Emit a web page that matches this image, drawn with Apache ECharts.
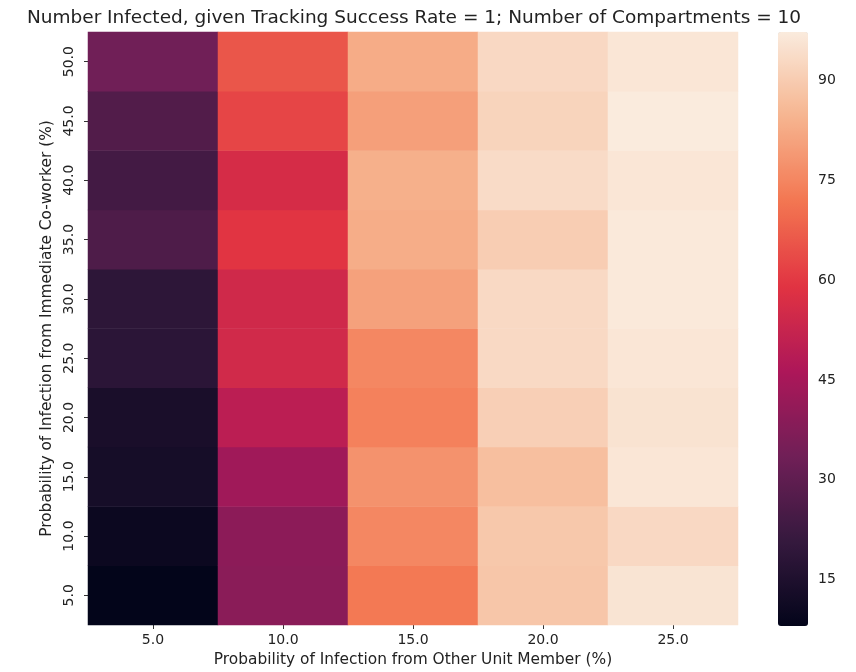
<!DOCTYPE html>
<html>
<head>
<meta charset="utf-8">
<script src="https://cdn.jsdelivr.net/npm/echarts@6/dist/echarts.min.js"></script>
<style>html,body{margin:0;padding:0;background:#fff;}#c{width:856px;height:672px;}</style>
</head>
<body>
<div id="c"></div>
<script>
// x categories: Probability of Infection from Other Unit Member (%)
var xCats = ['5.0', '10.0', '15.0', '20.0', '25.0'];
// y categories: Probability of Infection from Immediate Co-worker (%), bottom to top
var yCats = ['5.0', '10.0', '15.0', '20.0', '25.0', '30.0', '35.0', '40.0', '45.0', '50.0'];
// values per x column, listed from y=5.0 up to y=50.0
var col5  = [8.0, 10.2, 12.8, 13.8, 18.3, 18.7, 26.2, 23.8, 27.0, 33.6];
var col10 = [39.0, 39.4, 43.6, 49.6, 54.8, 54.5, 59.2, 56.0, 62.4, 65.6];
var col15 = [72.4, 75.2, 77.6, 74.1, 75.2, 80.7, 83.2, 83.8, 80.3, 82.8];
var col20 = [88.8, 89.1, 87.2, 90.9, 93.2, 93.2, 90.4, 93.7, 91.9, 93.0];
var col25 = [95.6, 93.0, 96.1, 95.4, 96.1, 96.8, 96.8, 96.1, 97.3, 96.1];
var colorbarTicks = [15, 30, 45, 60, 75, 90];
var rocket = ['#03051a', '#35193e', '#701f57', '#ad1759', '#e13342', '#f37651', '#f6b48f', '#faebdd'];

var cols = [col5, col10, col15, col20, col25];
var data = [];
var all = [];
cols.forEach(function (c, xi) {
  c.forEach(function (v, yi) { data.push([xi, yi, v]); all.push(v); });
});
var vmin = Math.min.apply(null, all), vmax = Math.max.apply(null, all);

var font = 'DejaVu Sans';
var txt = '#222';
var chart = echarts.init(document.getElementById('c'), null, {renderer: 'canvas'});
chart.setOption({
  animation: false,
  backgroundColor: '#fff',
  textStyle: {fontFamily: font},
  title: {
    text: 'Number Infected, given Tracking Success Rate = 1; Number of Compartments = 10',
    left: 409, top: 4, textAlign: 'center',
    textStyle: {fontFamily: font, fontSize: 18.5, fontWeight: 'normal', color: txt}
  },
  grid: [
    {left: 88, top: 32, width: 650, height: 594},
    {left: 778, top: 32, width: 30, height: 594}
  ],
  xAxis: [
    {
      type: 'category', data: xCats, gridIndex: 0,
      axisLine: {show: false},
      axisTick: {show: true, alignWithLabel: true, length: 4, lineStyle: {color: '#333'}},
      axisLabel: {fontFamily: font, fontSize: 14, color: txt, margin: 8},
      splitLine: {show: false},
      name: 'Probability of Infection from Other Unit Member (%)',
      nameLocation: 'middle', nameGap: 27,
      nameTextStyle: {fontFamily: font, fontSize: 15.4, color: txt}
    },
    {type: 'value', gridIndex: 1, show: false, min: 0, max: 1}
  ],
  yAxis: [
    {
      type: 'category', data: yCats, gridIndex: 0,
      axisLine: {show: false},
      axisTick: {show: true, alignWithLabel: true, length: 4, lineStyle: {color: '#333'}},
      axisLabel: {fontFamily: font, fontSize: 14, color: txt, rotate: 90, margin: 12},
      splitLine: {show: false},
      name: 'Probability of Infection from Immediate Co-worker (%)',
      nameLocation: 'middle', nameGap: 34, nameRotate: 90,
      nameTextStyle: {fontFamily: font, fontSize: 15.4, color: txt}
    },
    {
      type: 'value', gridIndex: 1, position: 'right', min: vmin, max: vmax,
      axisLine: {show: false},
      splitLine: {show: false},
      axisTick: {show: true, length: 4, customValues: colorbarTicks, lineStyle: {color: '#333'}},
      axisLabel: {fontFamily: font, fontSize: 14, color: txt, margin: 10, customValues: colorbarTicks}
    }
  ],
  visualMap: {
    type: 'continuous',
    seriesIndex: 0,
    min: vmin, max: vmax,
    calculable: false,
    orient: 'vertical',
    left: 778, top: 32,
    itemWidth: 30, itemHeight: 594,
    padding: 0,
    text: null,
    showLabel: false,
    hoverLink: false,
    inRange: {color: rocket}
  },
  series: [{
    type: 'heatmap',
    xAxisIndex: 0, yAxisIndex: 0,
    data: data,
    itemStyle: {borderWidth: 0},
    emphasis: {disabled: true}
  }]
});
</script>
</body>
</html>
